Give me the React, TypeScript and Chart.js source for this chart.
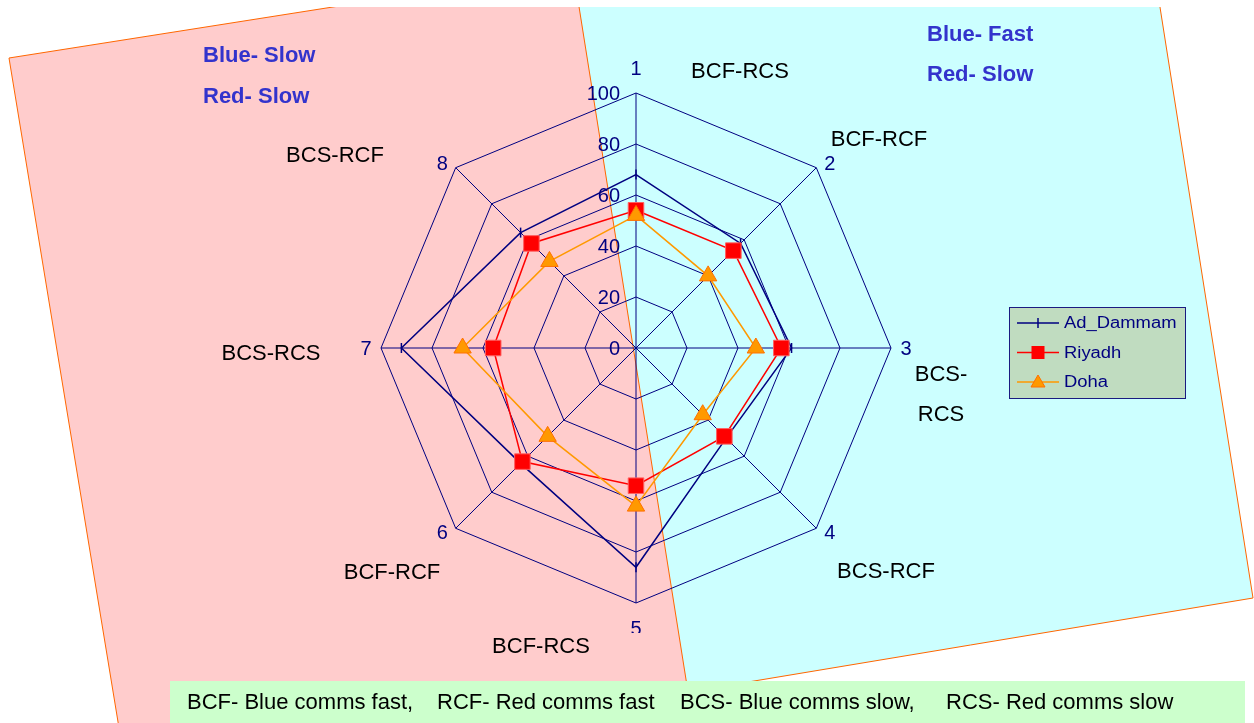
import React, { useEffect, useRef } from 'react';
import { Chart, registerables } from 'chart.js';

Chart.register(...registerables);

// ---- data ----
const axisLabels = ['1', '2', '3', '4', '5', '6', '7', '8'];
const adDammam = [68, 58, 61, 50, 86, 64, 92, 64];
const riyadh = [54, 54, 57, 49, 54, 63, 56, 58];
const doha = [52, 40, 47, 37, 62, 49, 68, 48];
const seriesNames = ['Ad_Dammam', 'Riyadh', 'Doha'];
const radialMin = 0;
const radialMax = 100;
const radialStep = 20;

// scenario caption beside each spoke
const spokeNotes = [
  ['BCF-RCS'],
  ['BCF-RCF'],
  ['BCS-', 'RCS'],
  ['BCS-RCF'],
  ['BCF-RCS'],
  ['BCF-RCF'],
  ['BCS-RCS'],
  ['BCS-RCF'],
];
const quadrantNotes = ['Blue- Slow', 'Red- Slow', 'Blue- Fast', 'Red- Slow'];
const footerNotes = [
  'BCF- Blue comms fast,',
  'RCF- Red comms fast',
  'BCS- Blue comms slow,',
  'RCS- Red comms slow',
];

// ---- layout / styling ----
const W = 1254;
const H = 723;
const FONT = '"Liberation Sans", Arial, sans-serif';
const NAVY = '#000080';
const PINK = '#FFCCCC';
const CYAN = '#CCFFFF';
const EDGE = '#FF6600';

const pinkPanel: [number, number][] = [[9, 58], [574, -31], [697, 740], [121, 740]];
const cyanPanel: [number, number][] = [[570, -50], [1151, -50], [1253, 598], [688, 692]];
const spokeNotePos: [number, number][] = [
  [740, 70], [879, 138], [941, 373], [886, 570],
  [541, 645], [392, 571], [271, 352], [335, 154],
];
const quadrantPos: [number, number][] = [[203, 54], [203, 95], [927, 33], [927, 73]];
const footerX = [187, 437, 680, 946];

function poly(ctx: CanvasRenderingContext2D, pts: [number, number][], fill: string, stroke: string) {
  ctx.beginPath();
  pts.forEach(([x, y], i) => (i ? ctx.lineTo(x, y) : ctx.moveTo(x, y)));
  ctx.closePath();
  ctx.fillStyle = fill;
  ctx.fill();
  ctx.lineWidth = 1;
  ctx.strokeStyle = stroke;
  ctx.stroke();
}

const backdropPlugin = {
  id: 'backdrop',
  beforeDraw(chart: any) {
    const ctx: CanvasRenderingContext2D = chart.ctx;
    ctx.save();
    ctx.fillStyle = '#FFFFFF';
    ctx.fillRect(0, 0, W, H);
    ctx.beginPath();
    ctx.rect(0, 7, W, H - 7);
    ctx.clip();
    poly(ctx, pinkPanel, PINK, EDGE);
    poly(ctx, cyanPanel, CYAN, EDGE);
    ctx.restore();
  },
};

const overlayPlugin = {
  id: 'overlay',
  afterDraw(chart: any) {
    const ctx: CanvasRenderingContext2D = chart.ctx;
    const scale = chart.scales.r;
    ctx.save();

    // radial tick values, to the left of spoke 1
    ctx.font = `20px ${FONT}`;
    ctx.fillStyle = NAVY;
    ctx.textAlign = 'right';
    ctx.textBaseline = 'middle';
    scale.ticks.forEach((t: any) => {
      const d = scale.getDistanceFromCenterForValue(t.value);
      ctx.fillText(String(t.value), scale.xCenter - 16, scale.yCenter - d + 1);
    });

    // spoke numbers
    ctx.font = `20px ${FONT}`;
    ctx.textAlign = 'center';
    axisLabels.forEach((lbl, i) => {
      const p = scale.getPointPositionForValue(i, scale.max);
      const a = scale.getIndexAngle(i) - Math.PI / 2;
      const c = Math.cos(a);
      const s = Math.sin(a);
      const ox = Math.abs(c) < 0.01 ? 0 : Math.sign(c) * (Math.abs(c) > 0.99 ? 15 : 13.5);
      const oy = Math.abs(s) < 0.01 ? 0 : Math.sign(s) * (Math.abs(s) > 0.99 ? 25 : 4);
      ctx.fillText(lbl, p.x + ox, p.y + oy + 1);
    });

    // text box under spoke 5 (its fill hides the lower part of the number)
    ctx.fillStyle = PINK;
    ctx.fillRect(470, 633, 190, 28);

    // scenario captions
    ctx.fillStyle = '#000000';
    ctx.font = `22px ${FONT}`;
    ctx.textAlign = 'center';
    ctx.textBaseline = 'alphabetic';
    spokeNotes.forEach((lines, i) => {
      const [x, y] = spokeNotePos[i];
      lines.forEach((ln, j) => ctx.fillText(ln, x, y + 8 + j * 40));
    });

    // quadrant captions
    ctx.fillStyle = '#3333CC';
    ctx.font = `bold 22px ${FONT}`;
    ctx.textAlign = 'left';
    quadrantNotes.forEach((t, i) => {
      const [x, y] = quadrantPos[i];
      ctx.fillText(t, x, y + 8);
    });

    // legend
    const lx = 1009.5, ly = 307.5, lw = 176, lh = 91;
    ctx.fillStyle = '#C0DCC0';
    ctx.fillRect(lx, ly, lw, lh);
    ctx.strokeStyle = '#1A1A80';
    ctx.lineWidth = 1;
    ctx.strokeRect(lx, ly, lw, lh);
    const rows = [323, 352.5, 382];
    chart.data.datasets.forEach((ds: any, i: number) => {
      const y = rows[i];
      ctx.strokeStyle = ds.borderColor;
      ctx.lineWidth = 1.5;
      ctx.beginPath();
      ctx.moveTo(1017, y);
      ctx.lineTo(1059, y);
      ctx.stroke();
      const mx = 1038;
      if (ds.pointStyle === 'line') {
        ctx.beginPath();
        ctx.moveTo(mx, y - 5);
        ctx.lineTo(mx, y + 5);
        ctx.stroke();
      } else if (ds.pointStyle === 'rect') {
        ctx.fillStyle = ds.pointBackgroundColor;
        ctx.fillRect(mx - 6.5, y - 6.5, 13, 13);
      } else {
        ctx.fillStyle = ds.pointBackgroundColor;
        ctx.strokeStyle = ds.pointBorderColor;
        ctx.lineWidth = 1;
        ctx.beginPath();
        ctx.moveTo(mx, y - 7);
        ctx.lineTo(mx + 7, y + 5);
        ctx.lineTo(mx - 7, y + 5);
        ctx.closePath();
        ctx.fill();
        ctx.stroke();
      }
      ctx.save();
      ctx.fillStyle = NAVY;
      ctx.font = `16px ${FONT}`;
      ctx.textAlign = 'left';
      ctx.textBaseline = 'middle';
      ctx.translate(1064, y + 1);
      ctx.scale(1.15, 1);
      ctx.fillText(ds.label, 0, 0);
      ctx.restore();
    });

    // footer key
    ctx.fillStyle = '#CCFFCC';
    ctx.fillRect(170, 681, 1075, H - 681);
    ctx.fillStyle = '#000000';
    ctx.font = `22px ${FONT}`;
    ctx.textAlign = 'left';
    ctx.textBaseline = 'alphabetic';
    footerNotes.forEach((t, i) => ctx.fillText(t, footerX[i], 709));

    ctx.restore();
  },
};

export default function App() {
  const ref = useRef<HTMLCanvasElement>(null);

  useEffect(() => {
    if (!ref.current) return;
    const chart = new Chart(ref.current, {
      type: 'radar',
      data: {
        labels: axisLabels,
        datasets: [
          {
            label: seriesNames[0],
            data: adDammam,
            borderColor: NAVY,
            borderWidth: 1.5,
            pointStyle: 'line',
            pointRotation: 90,
            pointRadius: 5,
            pointBorderWidth: 1.5,
            pointBorderColor: NAVY,
            pointBackgroundColor: NAVY,
            fill: false,
            order: 2,
          },
          {
            label: seriesNames[1],
            data: riyadh,
            borderColor: '#FF0000',
            borderWidth: 1.5,
            pointStyle: 'rect',
            pointRadius: 11,
            pointBorderWidth: 1,
            pointBackgroundColor: '#FF0000',
            pointBorderColor: '#FF6060',
            fill: false,
            order: 1,
          },
          {
            label: seriesNames[2],
            data: doha,
            borderColor: '#FF9900',
            borderWidth: 1.5,
            pointStyle: 'triangle',
            pointRadius: 10,
            pointBorderWidth: 1,
            pointBackgroundColor: '#FF9900',
            pointBorderColor: '#FF7000',
            fill: false,
            order: 0,
          },
        ],
      } as any,
      options: {
        responsive: false,
        animation: false,
        devicePixelRatio: 1,
        layout: { padding: { left: 381, top: 93, right: 363, bottom: 120 } },
        elements: { line: { tension: 0 } },
        plugins: {
          legend: { display: false },
          tooltip: { enabled: false },
          title: { display: false },
        },
        scales: {
          r: {
            min: radialMin,
            max: radialMax,
            ticks: { stepSize: radialStep, display: false },
            grid: { color: NAVY, lineWidth: 1, circular: false },
            angleLines: { color: NAVY, lineWidth: 1 },
            pointLabels: { display: false },
          },
        },
      } as any,
      plugins: [backdropPlugin, overlayPlugin],
    });
    return () => chart.destroy();
  }, []);

  return (
    <div style={{ position: 'fixed', left: 0, top: 0, width: W, height: H, background: '#FFFFFF' }}>
      <canvas ref={ref} width={W} height={H} style={{ display: 'block' }} />
    </div>
  );
}
